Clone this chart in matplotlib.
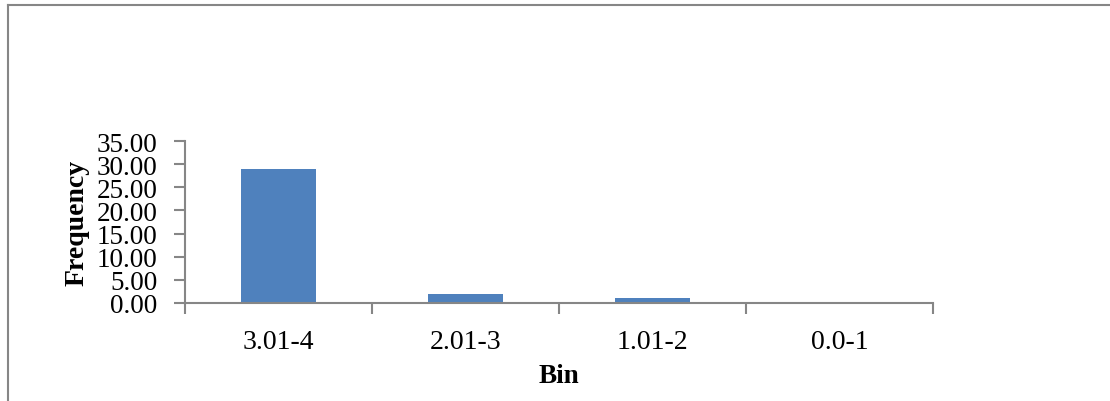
import matplotlib.pyplot as plt
from matplotlib.lines import Line2D

bins = ["3.01-4", "2.01-3", "1.01-2", "0.0-1"]
frequency = [29, 2, 1, 0]
y_ticks = [0, 5, 10, 15, 20, 25, 30, 35]

plt.rcParams['font.family'] = ['Liberation Serif', 'DejaVu Serif']

grey = '#868686'
bar_colour = '#4f81bd'

fig = plt.figure(figsize=(11.1, 4.02), dpi=100)
ax = fig.add_axes([185 / 1110, 1 - 304 / 402, (933 - 185) / 1110, (304 - 142) / 402])

x = range(len(bins))
ax.bar(x, frequency, width=0.4, color=bar_colour, zorder=2)

ax.set_xlim(-0.5, len(bins) - 0.5)
ax.set_ylim(0, 35)
ax.set_yticks(y_ticks)
ax.set_yticklabels([f"{v:.2f}" for v in y_ticks], fontsize=19.5)

# category labels sit between boundary ticks
ax.set_xticks([i - 0.5 for i in range(len(bins) + 1)])
ax.set_xticklabels([])
ax.set_xticks(list(x), minor=True)
ax.set_xticklabels(bins, minor=True, fontsize=20)
ax.tick_params(axis='x', which='minor', length=0, pad=18.5)
ax.tick_params(axis='x', which='major', length=8, width=1.5, color=grey, direction='out')
ax.tick_params(axis='y', length=8, width=1.5, color=grey, direction='out', pad=12)

for side in ('top', 'right'):
    ax.spines[side].set_visible(False)
for side in ('left', 'bottom'):
    ax.spines[side].set_color(grey)
    ax.spines[side].set_linewidth(1.5)

ax.set_ylabel("Frequency", fontsize=20, fontweight='bold', labelpad=5)
ax.set_xlabel("Bin", fontsize=19.5, fontweight='bold', labelpad=7)

# outer chart frame (top and left edges)
fig.add_artist(Line2D([7.5 / 1110, 7.5 / 1110], [0, 1 - 5.5 / 402],
                      transform=fig.transFigure, color=grey, lw=1.5))
fig.add_artist(Line2D([7.5 / 1110, 1], [1 - 5.5 / 402, 1 - 5.5 / 402],
                      transform=fig.transFigure, color=grey, lw=1.5))

fig.savefig("out.png", dpi=100)
